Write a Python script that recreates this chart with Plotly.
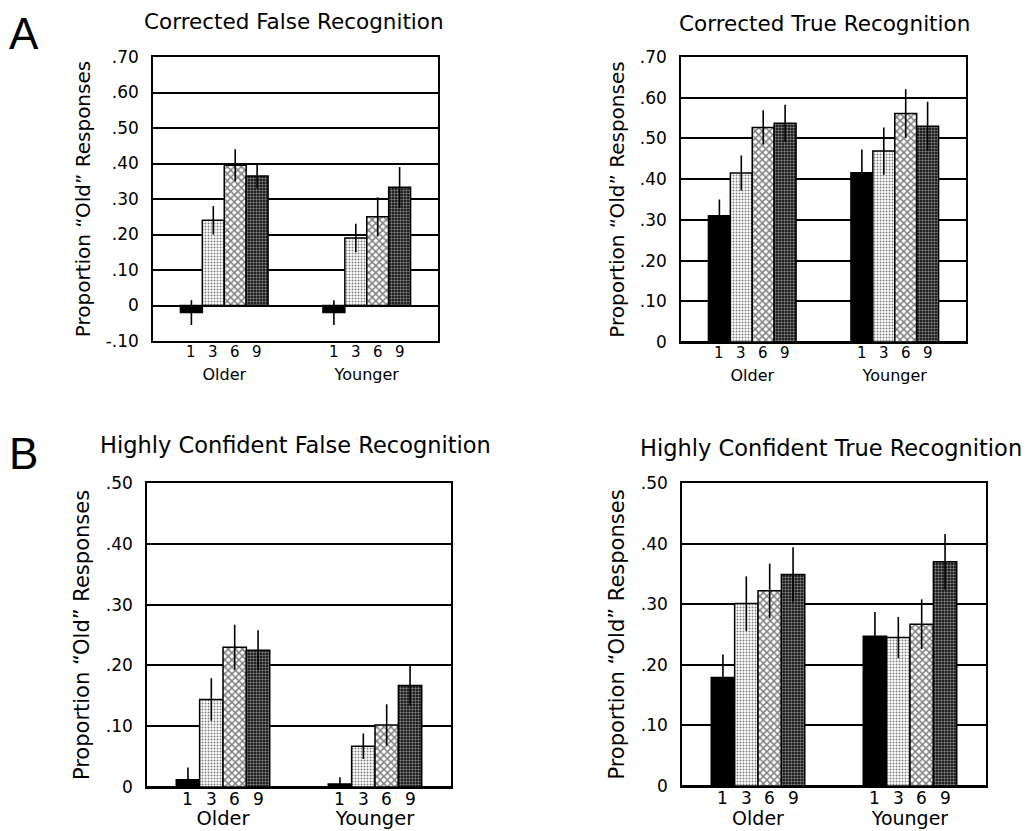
import plotly.graph_objects as go

# ---------------- data ----------------
groups = ["Older", "Younger"]
delays = ["1", "3", "6", "9"]

# Corrected False Recognition (panel A, left)
cfr_older = [-0.02, 0.24, 0.395, 0.365]
cfr_younger = [-0.02, 0.19, 0.25, 0.333]
cfr_older_err = [0.035, 0.04, 0.045, 0.035]
cfr_younger_err = [0.035, 0.04, 0.055, 0.057]

# Corrected True Recognition (panel A, right)
ctr_older = [0.31, 0.415, 0.527, 0.537]
ctr_younger = [0.416, 0.469, 0.561, 0.53]
ctr_older_err = [0.04, 0.043, 0.042, 0.046]
ctr_younger_err = [0.057, 0.058, 0.06, 0.06]

# Highly Confident False Recognition (panel B, left)
hcf_older = [0.012, 0.144, 0.23, 0.225]
hcf_younger = [0.005, 0.067, 0.102, 0.167]
hcf_older_err = [0.02, 0.035, 0.037, 0.033]
hcf_younger_err = [0.011, 0.021, 0.034, 0.033]

# Highly Confident True Recognition (panel B, right)
hct_older = [0.179, 0.301, 0.322, 0.349]
hct_younger = [0.247, 0.245, 0.267, 0.37]
hct_older_err = [0.038, 0.045, 0.045, 0.045]
hct_younger_err = [0.04, 0.034, 0.041, 0.046]

titles = ["Corrected False Recognition", "Corrected True Recognition",
          "Highly Confident False Recognition", "Highly Confident True Recognition"]
y_title = "Proportion \u201cOld\u201d Responses"

a_false_ticks = [-0.1, 0, 0.1, 0.2, 0.3, 0.4, 0.5, 0.6, 0.7]
a_false_ticktext = ["-.10", "0", ".10", ".20", ".30", ".40", ".50", ".60", ".70"]
a_true_ticks = [0, 0.1, 0.2, 0.3, 0.4, 0.5, 0.6, 0.7]
a_true_ticktext = ["0", ".10", ".20", ".30", ".40", ".50", ".60", ".70"]
b_ticks = [0, 0.1, 0.2, 0.3, 0.4, 0.5]
b_ticktext = ["0", ".10", ".20", ".30", ".40", ".50"]

# ---------------- styling ----------------
W, H = 1030, 831
OFF = 8  # page body margin offset
FONT = "DejaVu Sans"
BARGAP = 0.385

patterns = [
    dict(shape=""),
    dict(shape=".", fgcolor="black", bgcolor="white", size=3, solidity=0.35),
    dict(shape="x", fgcolor="black", bgcolor="white", size=5, solidity=0.5),
    dict(shape=".", fgcolor="white", bgcolor="black", size=3, solidity=0.5),
]
bar_colors = ["black", "white", "white", "white"]


def px_x(px):
    return (px - OFF) / W


def px_y(py):
    return 1 - (py - OFF) / H


panels = [
    dict(older=cfr_older, younger=cfr_younger, oerr=cfr_older_err, yerr=cfr_younger_err,
         dx=(153, 438), dy=(341, 57), rng=[-0.1, 0.7], tv=a_false_ticks, tt=a_false_ticktext,
         title_xy=(294, 22), title_size=21.5, xstand=18, xfont=16, dfont=15, yfont=20),
    dict(older=ctr_older, younger=ctr_younger, oerr=ctr_older_err, yerr=ctr_younger_err,
         dx=(681, 966), dy=(342, 57), rng=[0, 0.7], tv=a_true_ticks, tt=a_true_ticktext,
         title_xy=(824, 23), title_size=21.5, xstand=18, xfont=16, dfont=15, yfont=20),
    dict(older=hcf_older, younger=hcf_younger, oerr=hcf_older_err, yerr=hcf_younger_err,
         dx=(147, 451), dy=(787, 483), rng=[0, 0.5], tv=b_ticks, tt=b_ticktext,
         title_xy=(295, 445), title_size=22.5, xstand=13, xfont=19.5, dfont=17, yfont=21),
    dict(older=hct_older, younger=hct_younger, oerr=hct_older_err, yerr=hct_younger_err,
         dx=(682, 986), dy=(786, 483), rng=[0, 0.5], tv=b_ticks, tt=b_ticktext,
         title_xy=(831, 448), title_size=22.5, xstand=14, xfont=19, dfont=17, yfont=21),
]

fig = go.Figure()
annotations = []

for p_i, p in enumerate(panels):
    n = "" if p_i == 0 else str(p_i + 1)
    xa, ya = "x" + n, "y" + n
    for d_i, d in enumerate(delays):
        fig.add_trace(go.Bar(
            x=groups,
            y=[p["older"][d_i], p["younger"][d_i]],
            name=d,
            xaxis=xa, yaxis=ya,
            marker=dict(color=bar_colors[d_i], pattern=patterns[d_i],
                        line=dict(color="black", width=1.5)),
            error_y=dict(type="data", array=[p["oerr"][d_i], p["yerr"][d_i]],
                         color="black", thickness=1.6, width=0),
            showlegend=False,
        ))
        # delay labels under each bar
        for g_i in range(len(groups)):
            annotations.append(dict(
                xref=xa, yref=ya + " domain",
                x=g_i + (d_i - 1.5) * (1 - BARGAP) / 4, y=0,
                text=d, showarrow=False, yanchor="top", yshift=-1, borderpad=0,
                font=dict(family=FONT, size=p["dfont"], color="black"),
            ))
    axis_common = dict(showline=True, linecolor="black", linewidth=1.5, mirror=True,
                       automargin=False)
    fig.layout["xaxis" + n] = dict(
        domain=[px_x(p["dx"][0]), px_x(p["dx"][1])], anchor=ya, type="category",
        showgrid=False, ticks="", ticklabelstandoff=p["xstand"],
        tickfont=dict(family=FONT, size=p["xfont"], color="black"), **axis_common)
    fig.layout["yaxis" + n] = dict(
        domain=[px_y(p["dy"][0]), px_y(p["dy"][1])], anchor=xa, range=p["rng"],
        tickvals=p["tv"], ticktext=p["tt"], ticks="", ticklabelstandoff=9,
        showgrid=True, gridcolor="black", gridwidth=1.5,
        zeroline=True, zerolinecolor="black", zerolinewidth=1.5,
        tickfont=dict(family=FONT, size=17, color="black"),
        title=dict(text=y_title, font=dict(family=FONT, size=p["yfont"], color="black"),
                   standoff=10),
        **axis_common)
    annotations.append(dict(
        xref="paper", yref="paper", x=px_x(p["title_xy"][0]), y=px_y(p["title_xy"][1]),
        text=titles[p_i], showarrow=False, xanchor="center", yanchor="middle",
        font=dict(family=FONT, size=p["title_size"], color="black"),
    ))

# panel letters
annotations.append(dict(
    xref="paper", yref="paper", x=px_x(24), y=1, text="A", showarrow=False,
    xanchor="center", yanchor="top", borderpad=0,
    font=dict(family="Liberation Sans", size=44, color="black"),
))
annotations.append(dict(
    xref="paper", yref="paper", x=px_x(23), y=px_y(453), text="B", showarrow=False,
    xanchor="center", yanchor="middle", borderpad=0,
    font=dict(family="Liberation Sans", size=44, color="black"),
))

fig.update_layout(
    width=W, height=H,
    margin=dict(l=0, r=0, t=0, b=0, pad=0, autoexpand=False),
    paper_bgcolor="white", plot_bgcolor="white",
    barmode="group", bargap=BARGAP, bargroupgap=0,
    annotations=annotations,
    showlegend=False,
)

fig.write_html("out.html")
